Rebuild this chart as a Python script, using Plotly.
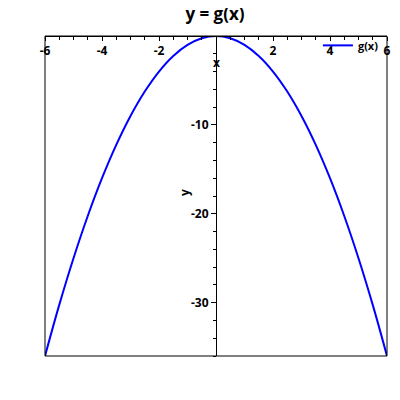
import plotly.graph_objects as go

x_vals = [-6, -5.5, -5, -4.5, -4, -3.5, -3, -2.5, -2, -1.5, -1, -0.5, 0,
          0.5, 1, 1.5, 2, 2.5, 3, 3.5, 4, 4.5, 5, 5.5, 6]
y_vals = [-36, -30.25, -25, -20.25, -16, -12.25, -9, -6.25, -4, -2.25, -1, -0.25, 0,
          -0.25, -1, -2.25, -4, -6.25, -9, -12.25, -16, -20.25, -25, -30.25, -36]
series_name = "g(x)"
title_text = "y = g(x)"
x_range = [-6, 6]
y_range = [-36, 0]
x_tickvals = [-6, -4, -2, 2, 4, 6]
x_ticktext = ["-6", "-4", "-2", "2", "4", "6"]
y_tickvals = [-10, -20, -30]
y_ticktext = ["-10", "-20", "-30"]

font_bold = "Open Sans"

fig = go.Figure()
fig.add_trace(go.Scatter(x=x_vals, y=y_vals, mode="lines", name=series_name,
                         line=dict(color="#0000ff", width=2, shape="spline")))

tickfont = dict(family=font_bold, size=12, color="black", weight="bold")

common_x = dict(range=x_range, showgrid=False, zeroline=False, showline=True,
                linecolor="black", linewidth=1, tickvals=x_tickvals, ticktext=x_ticktext,
                ticklen=4, tickcolor="black", tickwidth=1, automargin=False,
                minor=dict(ticks="", dtick=0.5, ticklen=3, tickcolor="black", showgrid=False))
common_y = dict(range=y_range, showgrid=False, zeroline=False, showline=True,
                linecolor="black", linewidth=1, tickvals=y_tickvals, ticktext=y_ticktext,
                ticklen=5, tickcolor="black", tickwidth=1, automargin=False,
                minor=dict(ticks="", dtick=2, ticklen=3, tickcolor="black", showgrid=False))

xa = dict(common_x); xa.update(anchor="free", position=1, side="bottom", ticks="outside",
                               tickfont=tickfont)
xa["minor"] = dict(common_x["minor"], ticks="outside")
xa2 = dict(common_x); xa2.update(overlaying="x", anchor="free", position=1, side="top",
                                 ticks="outside", showticklabels=False)
xa2["minor"] = dict(common_x["minor"], ticks="outside")
ya = dict(common_y); ya.update(anchor="free", position=0.5, side="left", ticks="outside",
                               tickfont=tickfont)
ya["minor"] = dict(common_y["minor"], ticks="outside")
ya2 = dict(common_y); ya2.update(overlaying="y", anchor="free", position=0.5, side="right",
                                 ticks="outside", showticklabels=False)
ya2["minor"] = dict(common_y["minor"], ticks="outside")

fig.update_layout(
    width=392, height=392,
    margin=dict(l=37, r=13, t=28, b=44, autoexpand=False),
    paper_bgcolor="white", plot_bgcolor="white",
    title=dict(text=title_text, x=0.528, xanchor="center", y=1.0, yanchor="top",
               automargin=False, pad=dict(t=0, b=0),
               font=dict(family=font_bold, size=17, color="black", weight="bold")),
    xaxis=xa, xaxis2=xa2, yaxis=ya, yaxis2=ya2,
    showlegend=True,
    legend=dict(x=0.991, xanchor="right", y=1.016, yanchor="top", bgcolor="rgba(0,0,0,0)",
                font=dict(family=font_bold, size=11, color="black", weight="bold"),
                itemwidth=30),
    shapes=[dict(type="rect", xref="paper", yref="paper", x0=0, x1=1, y0=0, y1=1,
                 line=dict(color="black", width=1), fillcolor="rgba(0,0,0,0)", layer="above")],
    annotations=[
        dict(text="x", x=0, y=-3, xref="x", yref="y", showarrow=False,
             font=dict(family=font_bold, size=12, color="black", weight="bold")),
        dict(text="y", x=-1.1, y=-17.6, xref="x", yref="y", showarrow=False, textangle=-90,
             font=dict(family=font_bold, size=12, color="black", weight="bold")),
    ],
)

fig.write_html("out.html")
